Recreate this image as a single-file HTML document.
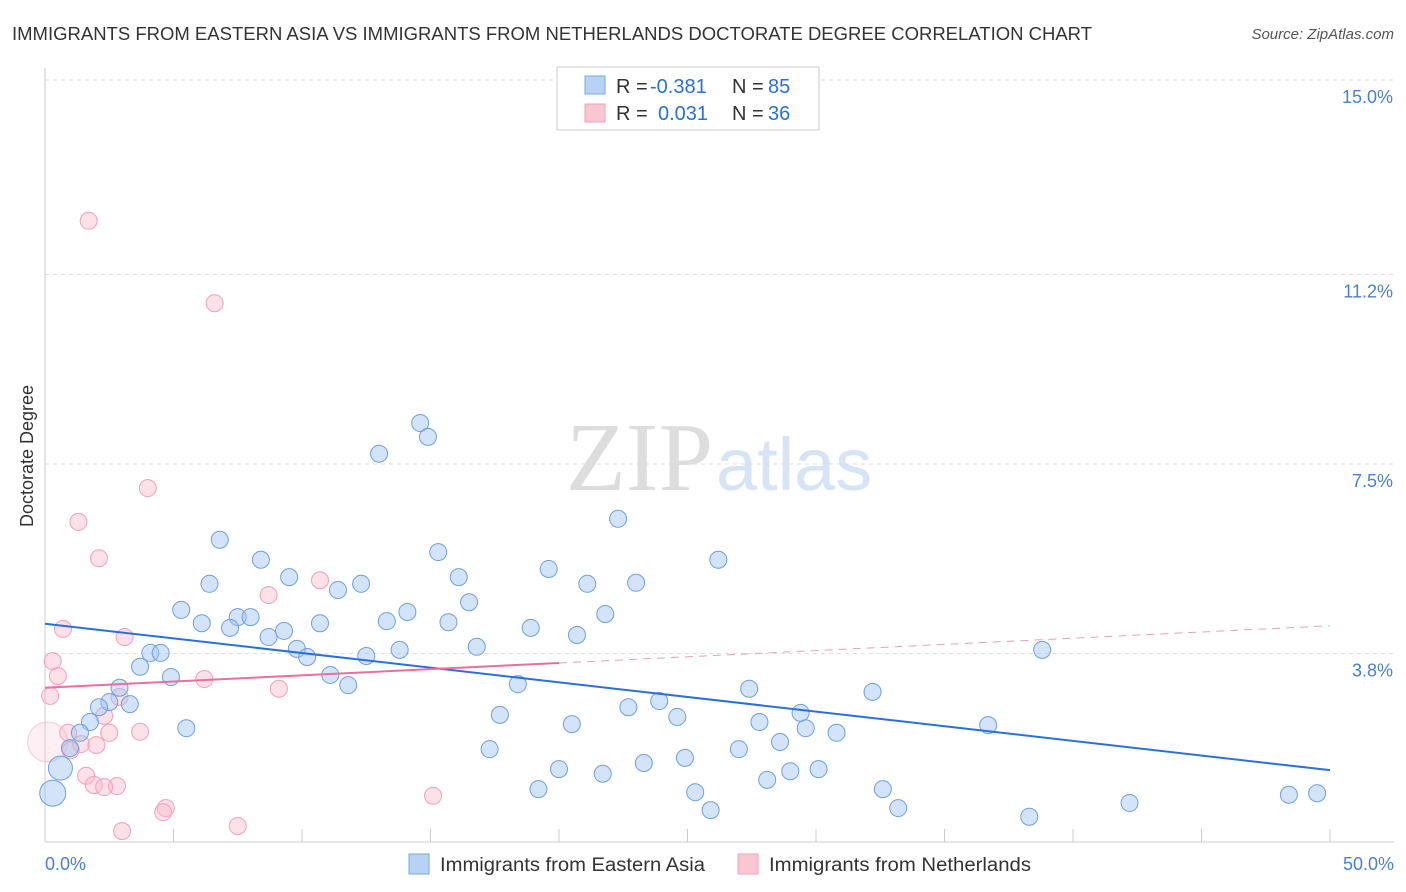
<!DOCTYPE html>
<html><head><meta charset="utf-8"><style>
body{margin:0;background:#fff;font-family:"Liberation Sans",sans-serif}
#wrap{position:relative;width:1406px;height:892px;overflow:hidden}
</style></head><body>
<div id="wrap">
<svg id="svg" width="1406" height="892" xmlns="http://www.w3.org/2000/svg">
<text x="12" y="40" font-size="18" fill="#333" textLength="1080" lengthAdjust="spacingAndGlyphs">IMMIGRANTS FROM EASTERN ASIA VS IMMIGRANTS FROM NETHERLANDS DOCTORATE DEGREE CORRELATION CHART</text>
<text x="1394" y="39" font-size="15" fill="#555" font-style="italic" text-anchor="end">Source: ZipAtlas.com</text>
<text x="33" y="456" font-size="18" fill="#333" text-anchor="middle" transform="rotate(-90 33 456)">Doctorate Degree</text>
<text x="713" y="490" font-size="98" fill="#ddd" font-family="Liberation Serif,serif" text-anchor="end">ZIP</text>
<text x="716" y="490" font-size="74" fill="#d6e4f5">atlas</text>
<g id="grid"></g><g id="pts"></g><g id="lines"></g>
<g>
<rect x="557" y="67" width="262" height="63" fill="#fff" stroke="#ccc"/>
<rect x="585" y="76" width="20" height="18" fill="#b8d2f4" stroke="#7aa8e0"/>
<rect x="585" y="104" width="20" height="18" fill="#f9c6d4" stroke="#f0a0b8"/>
<text x="616" y="93" font-size="20" fill="#333">R = <tspan x="650" fill="#2a6fdb">-0.381</tspan><tspan x="732">N = </tspan><tspan x="768" fill="#2a6fdb">85</tspan></text>
<text x="616" y="120" font-size="20" fill="#333">R = <tspan x="658" fill="#2a6fdb">0.031</tspan><tspan x="732">N = </tspan><tspan x="768" fill="#2a6fdb">36</tspan></text>
</g>
<g>
<rect x="409" y="854" width="20" height="20" fill="#b8d2f4" stroke="#7aa8e0"/>
<text x="440" y="871" font-size="19" fill="#333" textLength="265" lengthAdjust="spacingAndGlyphs">Immigrants from Eastern Asia</text>
<rect x="738" y="854" width="20" height="20" fill="#f9c6d4" stroke="#f0a0b8"/>
<text x="769" y="871" font-size="19" fill="#333" textLength="262" lengthAdjust="spacingAndGlyphs">Immigrants from Netherlands</text>
</g>
<text x="45" y="870" font-size="18" fill="#4a7fd4">0.0%</text>
<text x="1394" y="870" font-size="18" fill="#4a7fd4" text-anchor="end">50.0%</text>
</svg></div>
<script>
const yTicks=[15.0,11.2,7.5,3.8];
const yTickLabels=["15.0%","11.2%","7.5%","3.8%"];
const blueX=[14.6,14.9,13.0,22.3,6.8,15.3,26.2,8.4,19.6,9.5,16.1,6.4,12.3,21.1,23.0,11.4,16.5,5.3,14.1,21.8,6.1,7.5,8.0,7.2,10.7,13.3,15.7,18.9,9.3,20.7,8.7,16.8,38.8,4.1,4.5,9.8,10.2,12.5,13.8,3.7,4.9,11.1,2.9,11.8,18.4,27.4,32.2,2.5,3.3,2.1,23.9,22.7,17.7,24.6,29.4,1.75,1.36,5.5,20.5,27.8,29.6,36.7,30.8,28.6,0.97,17.3,27.0,24.9,23.3,0.6,20.0,21.7,29.0,30.1,28.1,19.2,32.6,25.3,0.3,33.2,25.9,42.2,38.3,48.4,49.5];
const blueY=[8.30,8.03,7.70,6.43,6.02,5.78,5.63,5.63,5.45,5.29,5.29,5.16,5.16,5.16,5.18,5.04,4.80,4.65,4.61,4.57,4.39,4.51,4.51,4.30,4.39,4.43,4.41,4.30,4.24,4.16,4.12,3.93,3.87,3.81,3.81,3.89,3.73,3.75,3.87,3.54,3.34,3.38,3.13,3.18,3.20,3.11,3.05,2.85,2.81,2.75,2.87,2.75,2.60,2.56,2.64,2.46,2.25,2.34,2.42,2.46,2.34,2.40,2.25,2.07,1.95,1.93,1.93,1.76,1.66,1.56,1.54,1.45,1.50,1.54,1.33,1.15,1.15,1.09,1.07,0.78,0.74,0.88,0.61,1.04,1.07];
const pinkX=[1.7,6.6,4.0,1.3,2.1,10.7,8.7,0.7,3.1,0.3,0.5,6.2,9.1,0.2,2.9,2.3,0.9,2.5,3.7,0.1,1.4,2.0,1.0,1.6,1.9,2.8,2.3,4.7,4.6,15.1,3.0,7.5];
const pinkY=[12.25,10.64,7.03,6.37,5.66,5.23,4.94,4.28,4.12,3.65,3.36,3.30,3.11,2.97,2.95,2.58,2.25,2.25,2.27,2.07,2.03,2.01,1.91,1.41,1.23,1.21,1.19,0.78,0.70,1.02,0.33,0.43];
const blueTrend=[4.38,1.52];
const pinkTrend=[3.13,4.34];
const X=v=>45+v*25.7, Y=v=>80+(15-v)*51.2;
const NS="http://www.w3.org/2000/svg";
function mk(t,a,p){const e=document.createElementNS(NS,t);for(const k in a)e.setAttribute(k,a[k]);p.appendChild(e);return e;}
const grid=document.getElementById('grid'),pts=document.getElementById('pts'),lines=document.getElementById('lines'),svg=document.getElementById('svg');
yTicks.forEach((t,i)=>{
 const l=mk('line',{x1:45,x2:1394,y1:Y(t),y2:Y(t),stroke:'#ddd','stroke-dasharray':'4,4'},grid);
 
 
 const tx=mk('text',{x:1393,y:Y(t)+23,'font-size':18,fill:'#4a7fd4','text-anchor':'end'},svg);
 tx.textContent=yTickLabels[i];
 
 
});
const ax=mk('line',{x1:45,x2:1394,y1:842,y2:842,stroke:'#ccc'},grid);


const ay=mk('line',{x1:45,x2:45,y1:68,y2:842,stroke:'#ccc'},grid);


for(let i=1;i<=10;i++){const tk=mk('line',{x1:X(i*5),x2:X(i*5),y1:829,y2:842,stroke:'#ccc'},grid);
 
 }
function big(x,y,list){for(const b of list)if(b[0]===x&&b[1]===y)return b[2];return 8.5;}
pinkX.forEach((x,i)=>{const r=big(x,pinkY[i],[[0.1,2.07,20]]);const c=mk('circle',{cx:X(x),cy:Y(pinkY[i]),r:r,fill:r>10?'rgba(248,190,208,0.25)':'rgba(248,180,200,0.4)',stroke:'#f0a0b8','stroke-width':1,'stroke-opacity':r>10?0.5:1},pts);
 
 });
blueX.forEach((x,i)=>{const c=mk('circle',{cx:X(x),cy:Y(blueY[i]),r:big(x,blueY[i],[[0.6,1.56,12],[0.3,1.07,13]]),fill:'rgba(160,196,240,0.45)',stroke:'#6f9fdc','stroke-width':1},pts);
 
 });
const bl=mk('line',{x1:X(0),y1:Y(blueTrend[0]),x2:X(50),y2:Y(blueTrend[1]),stroke:'#2a6fdb','stroke-width':2},lines);


const pAt=x=>pinkTrend[0]+(pinkTrend[1]-pinkTrend[0])*x/50;
const pl=mk('line',{x1:X(0),y1:Y(pAt(0)),x2:X(20),y2:Y(pAt(20)),stroke:'#e8709a','stroke-width':2},lines);


const pd=mk('line',{x1:X(20),y1:Y(pAt(20)),x2:X(50),y2:Y(pAt(50)),stroke:'#e8a0b8','stroke-width':1,'stroke-dasharray':'8,6'},lines);


</script>
</body></html>
